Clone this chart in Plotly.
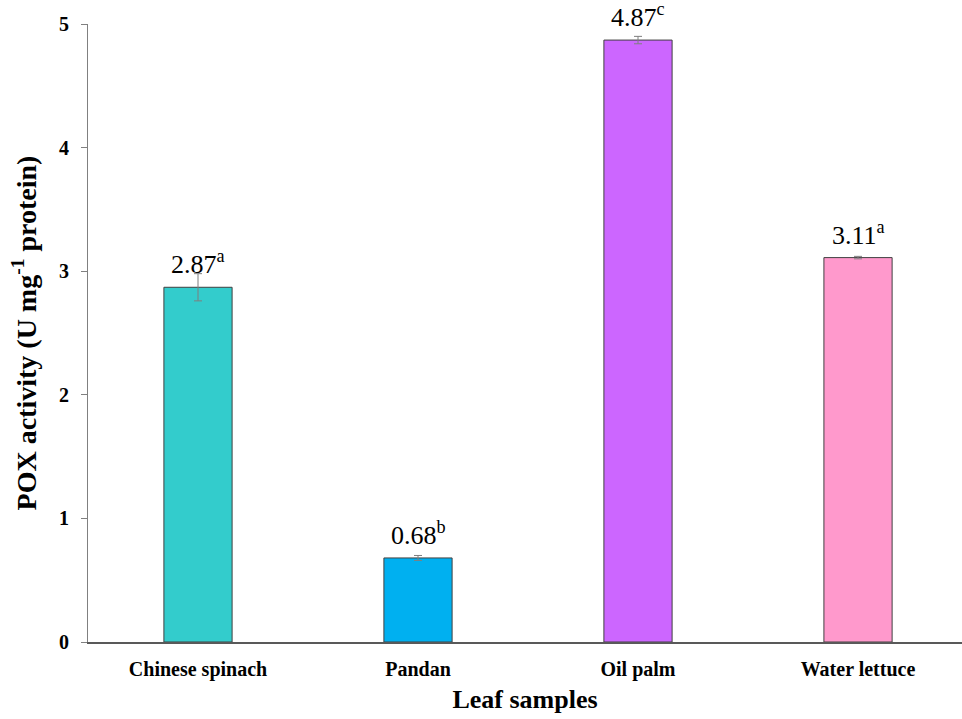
import plotly.graph_objects as go

# Peroxidase activity of leaf extracts
samples = ["Chinese spinach", "Pandan", "Oil palm", "Water lettuce"]
pox_activity = [2.87, 0.68, 4.87, 3.11]
std_error = [0.11, 0.02, 0.03, 0.01]
letters = ["a", "b", "c", "a"]
bar_colors = ["#33CCCC", "#00B0F0", "#CC66FF", "#FF99CC"]
y_ticks = [0, 1, 2, 3, 4, 5]

serif = "Times New Roman, Liberation Serif, serif"

fig = go.Figure(
    go.Bar(
        x=samples,
        y=pox_activity,
        width=0.31,
        marker=dict(color=bar_colors, line=dict(color="#404040", width=1)),
        error_y=dict(type="data", array=std_error, visible=True,
                     color="#7F7F7F", thickness=1, width=4),
    )
)

# value labels with significance letters above each bar
for s, v, l in zip(samples, pox_activity, letters):
    fig.add_annotation(
        x=s, y=v, text=f"{v:.2f}<sup>{l}</sup>", showarrow=False,
        yanchor="bottom", yshift=6,
        font=dict(family=serif, size=26, color="#000000"),
    )

fig.update_layout(
    width=962, height=719,
    margin=dict(l=88, r=0, t=24, b=77),
    plot_bgcolor="white", paper_bgcolor="white",
    showlegend=False,
    font=dict(family=serif, color="#000000"),
)
fig.update_xaxes(
    range=[-0.5, 3.4727], showline=True, linecolor="#595959", linewidth=1.5,
    ticks="", ticklabelstandoff=8,
    tickfont=dict(family=serif, size=20, weight="bold"),
    title=dict(text="<b>Leaf samples</b>", font=dict(family=serif, size=26), standoff=10),
    showgrid=False,
)
fig.update_yaxes(
    range=[0, 5], tickvals=y_ticks, showline=True, linecolor="#808080", linewidth=1,
    ticks="outside", ticklen=6, tickcolor="#808080", ticklabelstandoff=8,
    tickfont=dict(family=serif, size=20, weight="bold"),
    title=dict(text="<b>POX activity (U mg<sup>-1</sup> protein)</b>",
               font=dict(family=serif, size=28), standoff=14),
    showgrid=False, zeroline=False,
)

fig.write_html("out.html")
